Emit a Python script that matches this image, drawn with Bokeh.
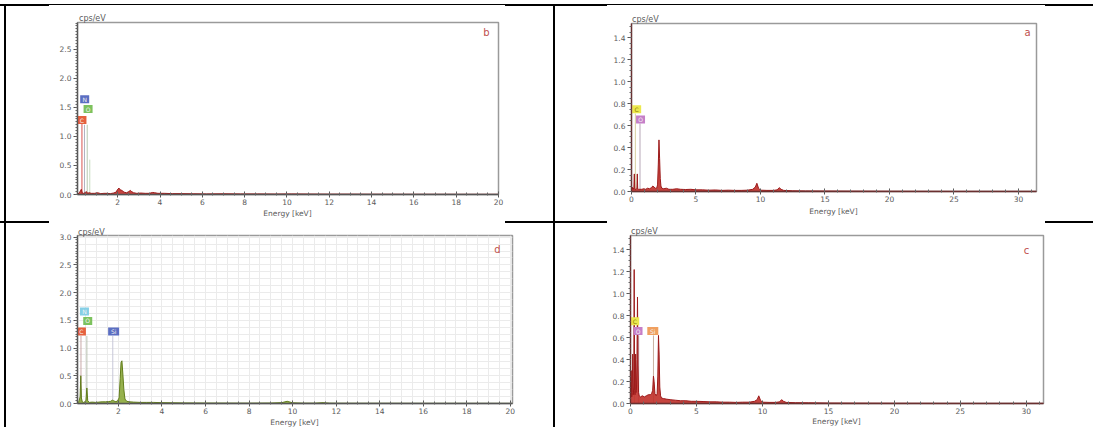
from bokeh.plotting import figure
from bokeh.layouts import row, column
from bokeh.models import Div, Range1d, SingleIntervalTicker, NumeralTickFormatter, Label
from bokeh.embed import file_html
from bokeh.resources import INLINE
from bokeh.core.properties import value

FONT = "DejaVu Sans"

# ---------------- data ----------------
# panel b (top left)
energy_b = [0.10,0.18,0.24,0.28,0.32,0.38,0.45,0.52,0.58,0.65,0.75,0.90,1.05,1.20,1.35,1.50,1.65,1.80,1.92,2.00,
            2.06,2.12,2.20,2.30,2.42,2.52,2.60,2.66,2.75,2.90,3.10,3.30,3.50,3.65,3.75,3.90,4.20,4.60,5.00,5.60,
            6.20,7.00,7.80,8.60,9.40,10.20,11.00,12.00,13.00,14.00,15.50,17.00,18.50,20.00]
cps_b = [0.00,0.03,0.06,0.09,0.03,0.02,0.03,0.05,0.02,0.03,0.02,0.02,0.03,0.015,0.02,0.02,0.015,0.025,0.04,0.09,
         0.11,0.08,0.07,0.04,0.03,0.05,0.07,0.05,0.03,0.02,0.025,0.02,0.02,0.035,0.03,0.02,0.02,0.015,0.015,0.012,
         0.01,0.012,0.01,0.01,0.008,0.01,0.008,0.006,0.006,0.005,0.004,0.004,0.003,0.003]
labels_b = ["N", "O", "C"]
label_x_b = [0.44, 0.60, 0.31]
label_y_b = [1.64, 1.47, 1.28]
label_fill_b = ["#5b6ec2", "#7cc25e", "#e5603e"]
marker_x_b = [0.31, 0.43, 0.56, 0.68]
marker_top_b = [1.22, 1.20, 1.20, 0.60]
marker_col_b = ["#d9534f", "#b0b0c0", "#b8c8b0", "#c8dcc0"]

# panel a (top right)
energy_a = [0.00,0.05,0.10,0.14,0.18,0.22,0.25,0.28,0.35,0.42,0.45,0.48,0.55,0.65,0.80,0.95,1.10,1.25,1.40,1.55,
            1.65,1.75,1.85,1.95,2.02,2.08,2.13,2.18,2.23,2.28,2.35,2.50,2.70,2.90,3.20,3.50,3.80,4.20,4.60,5.00,
            5.50,6.00,6.50,7.00,7.50,8.00,8.50,9.00,9.40,9.60,9.72,9.85,10.00,10.50,11.00,11.30,11.45,11.60,11.80,12.50,
            13.50,15.00,17.00,20.00,25.00,31.40]
cps_a = [0.02,0.04,0.02,0.03,0.02,0.16,0.03,0.02,0.02,0.03,0.16,0.02,0.02,0.02,0.02,0.025,0.02,0.03,0.025,0.035,
         0.05,0.04,0.03,0.03,0.06,0.25,0.47,0.30,0.12,0.05,0.03,0.025,0.03,0.02,0.02,0.025,0.02,0.018,0.02,0.015,
         0.015,0.012,0.014,0.01,0.012,0.01,0.01,0.012,0.02,0.04,0.075,0.03,0.012,0.01,0.01,0.015,0.035,0.02,0.01,0.006,
         0.005,0.004,0.003,0.002,0.001,0.001]
labels_a = ["C", "O"]
label_x_a = [0.40, 0.70]
label_y_a = [0.75, 0.655]
label_fill_a = ["#ece84e", "#c57fc8"]
marker_x_a = [0.30, 0.66]
marker_top_a = [0.71, 0.62]
marker_col_a = ["#d8d0a0", "#b8a8b8"]

# panel d (bottom left)
energy_d = [0.12,0.18,0.24,0.27,0.30,0.34,0.40,0.46,0.51,0.55,0.59,0.66,0.80,0.95,1.10,1.25,1.40,1.55,1.65,1.72,
            1.78,1.85,1.95,2.03,2.08,2.12,2.16,2.20,2.25,2.30,2.38,2.50,2.70,3.00,3.30,3.60,4.00,4.50,5.00,6.00,
            7.00,8.00,9.00,9.50,9.75,10.00,10.50,11.00,11.40,11.70,12.00,13.00,14.00,16.00,18.00,20.10]
cps_d = [0.01,0.03,0.12,0.50,0.10,0.03,0.02,0.03,0.06,0.28,0.05,0.02,0.025,0.02,0.025,0.03,0.03,0.035,0.04,0.06,
         0.05,0.035,0.04,0.10,0.45,0.74,0.77,0.55,0.25,0.08,0.04,0.03,0.025,0.02,0.02,0.02,0.015,0.012,0.01,0.008,
         0.007,0.006,0.008,0.015,0.04,0.012,0.006,0.006,0.015,0.006,0.005,0.004,0.004,0.003,0.003,0.002]
labels_d = ["N", "O", "C", "Si"]
label_x_d = [0.44, 0.59, 0.30, 1.78]
label_y_d = [1.66, 1.49, 1.30, 1.30]
label_fill_d = ["#86cfe6", "#7cc25e", "#e5603e", "#5b6ec2"]
marker_x_d = [0.28, 0.55, 1.74]
marker_top_d = [1.22, 1.22, 1.22]
marker_col_d = ["#c9a8a8", "#b8c0b0", "#c8c8d8"]

# panel c (bottom right)
energy_c = [0.00,0.05,0.09,0.13,0.17,0.21,0.25,0.28,0.31,0.35,0.39,0.42,0.45,0.49,0.53,0.57,0.61,0.66,0.75,0.90,
            1.05,1.20,1.35,1.50,1.60,1.68,1.74,1.79,1.85,1.95,2.02,2.07,2.12,2.17,2.22,2.28,2.35,2.50,2.70,3.00,
            3.40,3.80,4.20,4.60,5.00,5.50,6.00,6.50,7.00,7.50,8.00,8.50,9.00,9.40,9.60,9.72,9.85,10.00,10.50,11.00,
            11.30,11.45,11.60,11.80,12.50,13.50,15.00,17.00,20.00,25.00,31.30]
cps_c = [0.05,0.30,0.06,0.10,0.45,0.08,0.15,1.22,0.12,0.08,0.45,0.10,0.12,0.40,0.97,0.35,0.10,0.07,0.06,0.07,
         0.06,0.07,0.08,0.08,0.09,0.12,0.25,0.20,0.09,0.07,0.09,0.25,0.62,0.45,0.15,0.07,0.05,0.045,0.04,0.035,
         0.03,0.025,0.025,0.02,0.02,0.018,0.015,0.015,0.012,0.012,0.01,0.012,0.012,0.02,0.035,0.07,0.03,0.012,0.01,0.01,
         0.015,0.035,0.02,0.01,0.007,0.006,0.004,0.003,0.002,0.001,0.001]
labels_c = ["C", "O", "Si"]
label_x_c = [0.32, 0.57, 1.69]
label_y_c = [0.75, 0.66, 0.66]
label_fill_c = ["#ece84e", "#c57fc8", "#f0a060"]
marker_x_c = [0.30, 0.62, 1.74]
marker_top_c = [0.71, 0.62, 0.62]
marker_col_c = ["#d8c8a0", "#c0a0b0", "#c8b0a0"]

RED_FILL, RED_EDGE = "#c0302a", "#9c1b1b"
GREEN_FILL, GREEN_EDGE = "#8ba83a", "#627d1c"
TXT = "#5a5a5a"


def panel(energy, cps, fill, edge, xr, yr, xtick, xminor, ytick, yminor,
          labs, lx, ly, lfill, mx, mtop, mcol, letter, loff, w, h, borders, axis_col, grid=False):
    p = figure(width=w, height=h, x_range=Range1d(xr[0], xr[1]), y_range=Range1d(yr[0], yr[1]),
               output_backend="svg", toolbar_location=None, title=None,
               min_border_left=borders[0], min_border_right=borders[1],
               min_border_top=borders[2], min_border_bottom=borders[3],
               background_fill_color="white", border_fill_color="white")
    p.outline_line_color = "#9a9a9a"
    p.outline_line_width = 1.5

    p.xaxis.ticker = SingleIntervalTicker(interval=xtick, num_minor_ticks=xminor)
    p.yaxis.ticker = SingleIntervalTicker(interval=ytick, num_minor_ticks=yminor)
    p.yaxis.formatter = NumeralTickFormatter(format="0.0")
    p.xaxis.formatter = NumeralTickFormatter(format="0")
    for ax in (p.xaxis[0], p.yaxis[0]):
        ax.axis_line_color = axis_col
        ax.axis_line_width = 1.3
        ax.major_tick_line_color = "#555555"
        ax.minor_tick_line_color = "#666666"
        ax.major_label_text_font = FONT
        ax.major_label_text_font_size = "7.5px"
        ax.major_label_text_color = TXT
    p.yaxis.major_tick_in = 0
    p.yaxis.major_tick_out = 4
    p.yaxis.minor_tick_in = 0
    p.yaxis.minor_tick_out = 2
    p.yaxis.major_label_standoff = 2
    p.xaxis.major_tick_in = 3
    p.xaxis.major_tick_out = 3
    p.xaxis.minor_tick_in = 2
    p.xaxis.minor_tick_out = 1
    p.xaxis.major_label_standoff = 1

    if grid:
        p.xgrid.ticker = SingleIntervalTicker(interval=0.5)
        p.ygrid.ticker = SingleIntervalTicker(interval=0.125)
        p.grid.grid_line_color = "#ebebeb"
        p.grid.grid_line_width = 1
    else:
        p.grid.visible = False

    p.segment(x0=mx, y0=[0] * len(mx), x1=mx, y1=mtop, line_color=mcol, line_width=1)
    p.varea(x=energy, y1=[0] * len(energy), y2=cps, fill_color=fill, fill_alpha=0.9)
    p.line(x=energy, y=cps, line_color=edge, line_width=1)

    widths = [11 if len(t) > 1 else 9 for t in labs]
    tcol = ["#8a7c00" if c == "#ece84e" else "#f4f4f4" for c in lfill]
    p.rect(x=lx, y=ly, width=widths, height=[8] * len(labs), width_units="screen", height_units="screen",
           fill_color=lfill, line_color=None)
    p.text(x=lx, y=ly, text=labs, text_align="center", text_baseline="middle",
           text_font=value(FONT), text_font_size="6px", text_color=tcol)

    p.add_layout(Label(x=xr[1], y=yr[1], x_offset=loff[0], y_offset=loff[1], text=letter,
                       text_font=FONT, text_font_size="10px", text_color="#c0504d",
                       text_align="center", text_baseline="middle"))
    return p


def text_div(text, w, h, left, top, size, line_h, center_w=None):
    style = (f"position:relative;top:{top}px;left:{left}px;font-family:'{FONT}';font-size:{size};"
             f"color:{TXT};line-height:{line_h}px;margin:0;white-space:nowrap;")
    if center_w is not None:
        style += f"width:{center_w}px;text-align:center;"
    return Div(text=f'<div style="{style}">{text}</div>', width=w, height=h, margin=0,
               styles={"overflow": "visible", "position": "relative", "z-index": "5",
                       "background": "transparent"})


def cell(p, w, frame_left, frame_w, unit_h, unit_top, unit_left, lab_h, lab_top):
    top = text_div("cps/eV", w, unit_h, unit_left, unit_top, "8px", 10)
    bottom = text_div("Energy [keV]", w, lab_h, frame_left, lab_top, "7.5px", 9, center_w=frame_w)
    return column(top, p, bottom, spacing=0)


p_b = panel(energy_b, cps_b, RED_FILL, RED_EDGE, (0.1, 20.0), (0, 2.96), 2, 4, 0.5, 10,
            labels_b, label_x_b, label_y_b, label_fill_b, marker_x_b, marker_top_b, marker_col_b,
            "b", (-12, -10), 547, 194, (71, 55, 2, 20), "#555555")
p_a = panel(energy_a, cps_a, RED_FILL, RED_EDGE, (0, 31.4), (0, 1.53), 5, 5, 0.2, 4,
            labels_a, label_x_a, label_y_a, label_fill_a, marker_x_a, marker_top_a, marker_col_a,
            "a", (-9, -9), 538, 190, (76, 57, 2, 20), "#6a3030")
p_d = panel(energy_d, cps_d, GREEN_FILL, GREEN_EDGE, (0.12, 20.1), (0, 3.03), 2, 4, 0.5, 10,
            labels_d, label_x_d, label_y_d, label_fill_d, marker_x_d, marker_top_d, marker_col_d,
            "d", (-15, -14), 547, 195, (71, 41, 7, 20), "#555555", grid=True)
p_c = panel(energy_c, cps_c, RED_FILL, RED_EDGE, (0, 31.3), (0, 1.53), 5, 5, 0.2, 4,
            labels_c, label_x_c, label_y_c, label_fill_c, marker_x_c, marker_top_c, marker_col_c,
            "c", (-17, -15), 538, 195, (75, 50, 7, 20), "#6a3030")

#             fig  w    fl  fw   uh  ut ul  lh  lt
cell_b = cell(p_b, 547, 71, 421, 14, 3, 73, 7, -10)
cell_a = cell(p_a, 538, 76, 405, 15, 4, 77, 10, -9)
cell_d = cell(p_d, 547, 71, 435, 5, 0, 72, 4, -10)
cell_c = cell(p_c, 538, 75, 413, 5, -1, 76, 4, -11)


def bar(w, h, style):
    s = {"overflow": "hidden"}
    s.update(style)
    return Div(text="", width=w, height=h, margin=0, styles=s)


BLACK = {"background-color": "#000000"}
THIN = {"background": "linear-gradient(to bottom, #000000 0px, #000000 1px, #ffffff 1px, #ffffff 2px)"}
WHITE = {"background-color": "#ffffff"}

seg_w = [49, 456, 102, 438, 48]
top_line = row(bar(seg_w[0], 2, BLACK), bar(seg_w[1], 2, THIN), bar(seg_w[2], 2, BLACK),
               bar(seg_w[3], 2, THIN), bar(seg_w[4], 2, BLACK), spacing=0)
row1 = row(bar(4, 215, WHITE), bar(2, 215, BLACK), cell_b, bar(2, 215, BLACK), cell_a, spacing=0)
mid_line = row(bar(seg_w[0], 2, BLACK), bar(seg_w[1], 2, WHITE), bar(seg_w[2], 2, BLACK),
               bar(seg_w[3], 2, WHITE), bar(seg_w[4], 2, BLACK), spacing=0)
row2 = row(bar(4, 204, WHITE), bar(2, 204, BLACK), cell_d, bar(2, 204, BLACK), cell_c, spacing=0)
layout = column(bar(1093, 4, WHITE), top_line, row1, mid_line, row2, spacing=0)

open("out.html", "w").write(file_html(layout, INLINE))
